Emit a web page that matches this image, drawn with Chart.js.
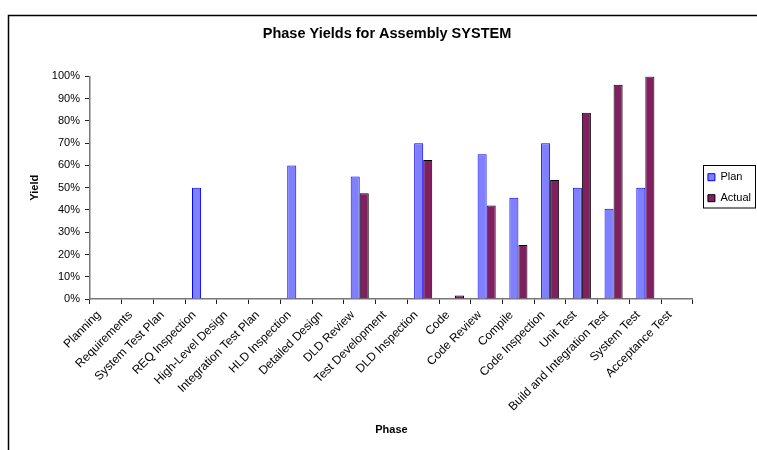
<!DOCTYPE html>
<html>
<head>
<meta charset="utf-8">
<script src="https://cdn.jsdelivr.net/npm/chart.js@4/dist/chart.umd.min.js"></script>
<style>
    html, body { margin: 0; padding: 0; background: #fff; overflow: hidden; }
    #wrap { width: 757px; height: 450px; }
</style>
</head>
<body>
<div id="wrap"><canvas id="myChart" width="757" height="450"></canvas></div>
<script>
const phases = [
    "Planning", "Requirements", "System Test Plan", "REQ Inspection",
    "High-Level Design", "Integration Test Plan", "HLD Inspection",
    "Detailed Design", "DLD Review", "Test Development", "DLD Inspection",
    "Code", "Code Review", "Compile", "Code Inspection", "Unit Test",
    "Build and Integration Test", "System Test", "Acceptance Test"
];
const planYield = [null, null, null, 50, null, null, 60, null, 55, null, 70, null, 65, 45.5, 70, 50, 40.5, 50, null];
const actualYield = [null, null, null, null, null, null, null, null, 47.5, null, 62.5, 1.6, 42, 24.3, 53.5, 83.7, 96.3, 100, null];
const yieldTicks = [0, 10, 20, 30, 40, 50, 60, 70, 80, 90, 100];

// frame round the chart and a box round the legend
const frame = {
    id: "frame",
    afterLayout(chart) {
        // nudge the legend a little to the right, as in the picture
        chart.legend.left += 5;
        chart.legend.right += 5;
    },
    beforeDraw(chart) {
        const c = chart.ctx;
        c.save();
        c.strokeStyle = "#000";
        c.lineWidth = 1.5;
        c.strokeRect(8.5, 15.5, 900, 600);
        c.restore();
    },
    afterDraw(chart) {
        const boxes = chart.legend.legendHitBoxes;
        if (!boxes || !boxes.length) return;
        const first = boxes[0];
        const last = boxes[boxes.length - 1];
        const c = chart.ctx;
        c.save();
        c.strokeStyle = "#000";
        c.lineWidth = 1;
        const x = Math.round(first.left) - 4.5;
        const y = Math.round(first.top) - 6.5;
        c.strokeRect(x, y, 755.5 - x, Math.round(last.top + last.height) - y + 4);
        c.restore();
    }
};

const ctx = document.getElementById("myChart").getContext("2d");
let myChart = new Chart(ctx, {
    type: "bar",
    data: {
        labels: phases,
        datasets: [
            {
                label: "Plan",
                data: planYield,
                backgroundColor: "#8080FF",
                borderColor: "#0000FF",
                borderWidth: 1,
            },
            {
                label: "Actual",
                data: actualYield,
                backgroundColor: "#802060",
                borderColor: "#000000",
                borderWidth: 1,
            },
        ],
    },
    options: {
        responsive: false,
        animation: false,
        datasets: {
            bar: {
                categoryPercentage: 0.57,
                barPercentage: 1.0,
            }
        },
        layout: {
            padding: { top: 0, right: 1, bottom: 0, left: 18 }
        },
        plugins: {
            title: {
                display: true,
                text: "Phase Yields for Assembly SYSTEM",
                color: "#000",
                font: { family: "Liberation Sans, Arial", size: 14.5, weight: "bold" },
                padding: { top: 25, bottom: 34 },
            },
            legend: {
                position: "right",
                fullSize: false,
                labels: {
                    color: "#000",
                    font: { family: "Liberation Sans, Arial", size: 11 },
                    boxWidth: 7,
                    boxHeight: 7,
                    padding: 10,
                    generateLabels(chart) {
                        return chart.data.datasets.map((ds, i) => ({
                            text: ds.label,
                            fillStyle: ds.backgroundColor,
                            strokeStyle: ds.borderColor,
                            lineWidth: 1,
                            datasetIndex: i,
                            fontColor: "#000",
                        }));
                    }
                }
            },
            tooltip: { enabled: false },
        },
        scales: {
            x: {
                offset: true,
                border: { color: "#777", width: 1.5 },
                grid: {
                    offset: true,
                    drawOnChartArea: false,
                    tickLength: 5,
                    color: "#222",
                },
                ticks: {
                    color: "#000",
                    font: { family: "Liberation Sans, Arial", size: 12 },
                    maxRotation: 45,
                    minRotation: 45,
                    autoSkip: false,
                    padding: 4,
                    labelOffset: -7,
                },
                title: {
                    display: true,
                    text: "Phase",
                    color: "#000",
                    font: { family: "Liberation Sans, Arial", size: 11, weight: "bold" },
                    padding: { top: 0, bottom: 13 },
                },
                afterFit(scale) { scale.height = 151; },
            },
            y: {
                min: 0,
                max: 100,
                afterBuildTicks(scale) {
                    scale.ticks = yieldTicks.map(v => ({ value: v }));
                },
                border: { color: "#777", width: 1.5 },
                grid: {
                    drawOnChartArea: false,
                    tickLength: 5,
                    color: "#222",
                },
                ticks: {
                    color: "#000",
                    font: { family: "Liberation Sans, Arial", size: 11 },
                    padding: 5,
                    callback: v => v + "%",
                },
                title: {
                    display: true,
                    text: "Yield",
                    color: "#000",
                    font: { family: "Liberation Sans, Arial", size: 11, weight: "bold" },
                    padding: { top: 10, bottom: 0 },
                },
                afterFit(scale) { scale.width = 72; },
            },
        },
    },
    plugins: [frame],
});
</script>
</body>
</html>
